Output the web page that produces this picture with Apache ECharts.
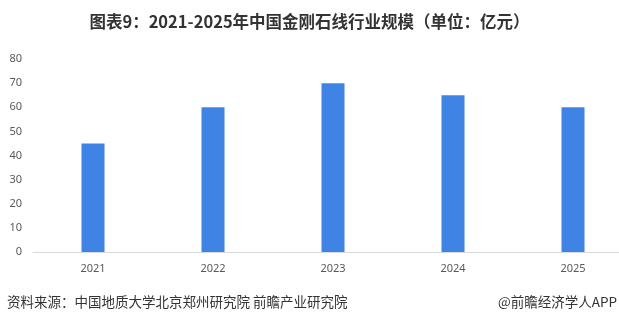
<!DOCTYPE html>
<html><head><meta charset="utf-8">
<script src="https://cdn.jsdelivr.net/npm/echarts@6/dist/echarts.min.js"></script>
<style>html,body{margin:0;padding:0;background:#fff;overflow:hidden}#c{width:619px;height:324px}</style>
</head><body><div id="c"></div>
<script>
const categories = ['2021','2022','2023','2024','2025'];
const values = [45, 60, 70, 65, 60];
const yTicks = [0,10,20,30,40,50,60,70,80];
const titleText = '图表9：2021-2025年中国金刚石线行业规模（单位：亿元）';
const sourceText = '资料来源：中国地质大学北京郑州研究院 前瞻产业研究院';
const brandText = '@前瞻经济学人APP';

const chart = echarts.init(document.getElementById('c'));
chart.setOption({
  animation: false,
  backgroundColor: '#fff',
  title: {
    text: titleText, left: 'center', top: 8,
    textStyle: {fontSize: 16.5, fontWeight: 'bold', color: '#333', fontFamily: 'Noto Sans CJK SC'}
  },
  graphic: [
    {type: 'text', left: 7, top: 295, style: {text: sourceText, fontSize: 13.5, fill: '#333', fontFamily: 'Noto Sans CJK SC'}},
    {type: 'text', right: 2, top: 295, style: {text: brandText, fontSize: 13.5, fill: '#333', fontFamily: 'Noto Sans CJK SC'}}
  ],
  grid: {left: 33, width: 600, top: 59, bottom: 72, containLabel: false, outerBoundsMode: 'none'},
  xAxis: {
    type: 'category', data: categories,
    axisLine: {lineStyle: {color: '#d9d9d9'}},
    axisTick: {show: false},
    axisLabel: {color: '#595959', fontSize: 11, margin: 11, fontFamily: 'Noto Sans'}
  },
  yAxis: {
    type: 'value', min: yTicks[0], max: yTicks[yTicks.length-1], interval: 10,
    axisLine: {show: false}, axisTick: {show: false}, splitLine: {show: false},
    axisLabel: {color: '#595959', fontSize: 11, margin: 11, fontFamily: 'Noto Sans'}
  },
  series: [{
    type: 'bar', data: values, barWidth: 23,
    itemStyle: {color: '#3f84e5'}
  }]
});
</script></body></html>
